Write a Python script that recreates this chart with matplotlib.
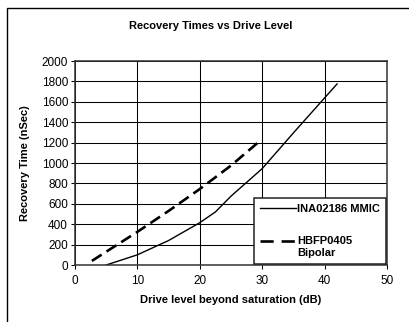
import numpy as np
import matplotlib
matplotlib.use("Agg")
import matplotlib.pyplot as plt
from matplotlib.patches import Rectangle

plt.rcParams['font.family'] = ['Liberation Sans', 'DejaVu Sans']

# datos
ina_x = [5, 10, 15, 20, 22.5, 25, 30, 35, 40, 42]
ina_y = [0, 100, 240, 415, 520, 675, 945, 1295, 1638, 1775]
hbfp_x = [2.7, 5, 10, 15, 20, 25, 29.5]
hbfp_y = [40, 130, 325, 530, 745, 975, 1210]

x_ticks = [0, 10, 20, 30, 40, 50]
y_ticks = [0, 200, 400, 600, 800, 1000, 1200, 1400, 1600, 1800, 2000]

W, H = 409, 322
fig = plt.figure(figsize=(W / 100, H / 100), dpi=100)
ax = fig.add_axes([75 / W, (H - 265) / H, 312 / W, 204 / H])

ax.plot(ina_x, ina_y, color="black", lw=1.0, label="INA02186 MMIC")
dash, = ax.plot(hbfp_x, hbfp_y, color="black", lw=1.9, label="HBFP0405\nBipolar")
dash.set_dashes((4.4, 2.2))

ax.set_xlim(0, 50)
ax.set_ylim(0, 2000)
ax.set_xticks(x_ticks)
ax.set_yticks(y_ticks)
ax.grid(True, color="black", lw=0.75)
ax.set_axisbelow(True)
for s in ax.spines.values():
    s.set_color("#333333")
    s.set_linewidth(1.1)
ax.tick_params(direction="out", length=3, width=0.75, labelsize=8.5, pad=2)
ax.tick_params(axis="x", pad=4)

ax.set_xlabel("Drive level beyond saturation (dB)", fontsize=8,
              fontweight="bold", labelpad=6)
ax.set_ylabel("Recovery Time (nSec)", fontsize=8, fontweight="bold",
              labelpad=8)
fig.text(211 / W, (H - 26) / H, "Recovery Times vs Drive Level",
         fontsize=8, fontweight="bold", ha="center", va="center")

leg = ax.legend(loc="lower right", bbox_to_anchor=(0.997, 0.005),
                borderaxespad=0, fancybox=False, framealpha=1,
                edgecolor="#222222", handlelength=3.2, handletextpad=0.1,
                labelspacing=2.0, borderpad=0.55,
                prop={"size": 8, "weight": "bold"})
leg.get_frame().set_linewidth(1.1)
# la muestra discontinua va a la altura de la primera linea del texto
h2 = leg.get_lines()[1]
h2.set_ydata(np.asarray(h2.get_ydata()) + 4.5)
h2.set_dashes((5.0, 3.0))

# marco exterior
fig.add_artist(Rectangle((7 / W, -0.5), 2, (H - 8) / H + 0.5,
                         transform=fig.transFigure, fill=False,
                         lw=1.0, ec="black"))

fig.savefig("out.png", dpi=100)
